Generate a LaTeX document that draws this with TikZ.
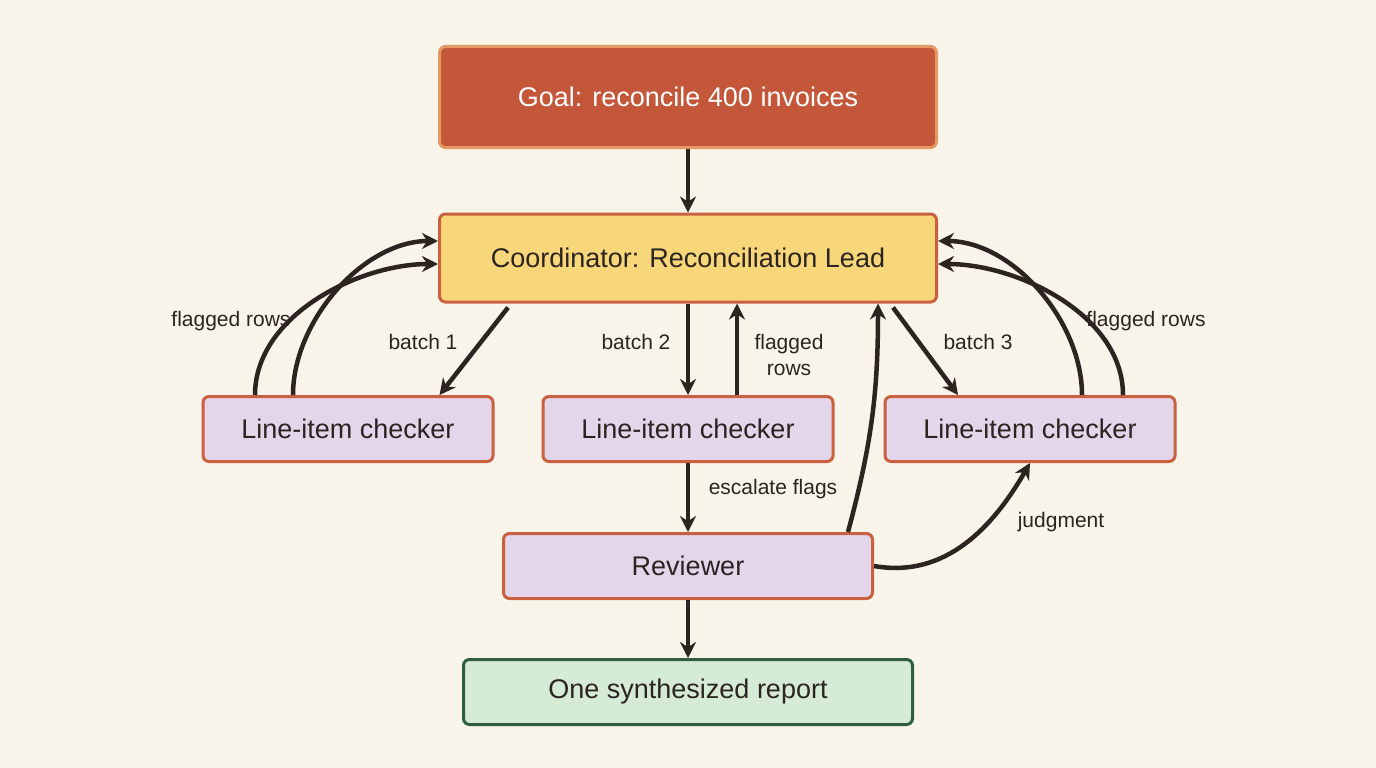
\documentclass[tikz,border=0pt]{standalone}
\usepackage{fontspec}
\setmainfont{Liberation Sans}
\usetikzlibrary{arrows.meta, positioning}
\definecolor{bgcol}{HTML}{F8F4EA}
\definecolor{goalfill}{HTML}{C4573A}
\definecolor{goalline}{HTML}{E39A62}
\definecolor{leadfill}{HTML}{F8D77A}
\definecolor{boxline}{HTML}{C9603F}
\definecolor{workfill}{HTML}{E3D5EA}
\definecolor{outfill}{HTML}{D5EBD5}
\definecolor{outline}{HTML}{2F5E3A}
\definecolor{ink}{HTML}{2B2420}

\begin{document}
\begin{tikzpicture}[x=1pt, y=-1pt, >={Stealth[length=16pt,width=16pt]}]
	\tikzset{box/.style={draw, line width=3pt, rounded corners=6pt, font=\fontsize{27}{30}\selectfont, text=ink},
		goal/.style={box, fill=goalfill, draw=goalline, text=white, minimum width=497pt, minimum height=101pt},
		lead/.style={box, fill=leadfill, draw=boxline, minimum width=497pt, minimum height=88pt},
		worker/.style={box, fill=workfill, draw=boxline, minimum width=290pt, minimum height=65pt},
		report/.style={box, fill=outfill, draw=outline, minimum width=449pt, minimum height=65pt},
		flow/.style={->, line width=4.5pt, draw=ink},
		lbl/.style={font=\fontsize{21}{24}\selectfont, text=ink, align=center}}

	\fill[bgcol] (0,0) rectangle (1376,768);

	\node[goal] (goal) at (688,97) {Goal: reconcile 400 invoices};
	\node[lead] (lead) at (688,258) {Coordinator: Reconciliation Lead};
	\node[worker] (check1) at (348,429) {Line-item checker};
	\node[worker] (check2) at (688,429) {Line-item checker};
	\node[worker] (check3) at (1030,429) {Line-item checker};
	\node[worker, minimum width=369pt] (review) at (688,566) {Reviewer};
	\node[report] (final) at (688,692) {One synthesized report};

	% straight connectors
	\draw[flow] (goal) -- (lead);
	\draw[flow] (lead.south west) ++(70,4) -- ([xshift=-55pt]check1.north east);
	\draw[flow] (lead.south) -- (check2.north);
	\draw[flow] ([xshift=49pt]check2.north) -- ([xshift=49pt]lead.south);
	\draw[flow] (lead.south east) ++(-45,4) -- ([xshift=-72pt]check3.north);
	\draw[flow] (check2) -- (review);
	\draw[flow] (review) -- (final);

	% feedback curves
	\draw[flow] ([xshift=-93pt]check1.north) to[out=90, in=180, looseness=0.9] ([yshift=-6pt]lead.west);
	\draw[flow] ([xshift=-55pt]check1.north) to[out=90, in=180, looseness=0.9] ([yshift=17pt]lead.west);
	\draw[flow] ([xshift=93pt]check3.north) to[out=90, in=0, looseness=0.9] ([yshift=-6pt]lead.east);
	\draw[flow] ([xshift=52pt]check3.north) to[out=90, in=0, looseness=0.9] ([yshift=17pt]lead.east);
	\draw[flow] ([xshift=160pt]review.north) to[out=75, in=-90] ([xshift=190pt]lead.south);
	\draw[flow] (review.east) to[out=-10, in=-120] (check3.south);

	% labels
	\node[lbl] (l1) at (231,321) {flagged rows};
	\node[lbl] (l2) at (423,342) {batch 1};
	\node[lbl] (l3) at (636,342) {batch 2};
	\node[lbl, font=\fontsize{21}{26}\selectfont] (l4) at (789,355) {flagged\\rows};
	\node[lbl] (l5) at (978,342) {batch 3};
	\node[lbl] (l6) at (1146,321) {flagged rows};
	\node[lbl] (l7) at (773,489) {escalate flags};
	\node[lbl] (l8) at (1061,522) {judgment};
\end{tikzpicture}
\end{document}
